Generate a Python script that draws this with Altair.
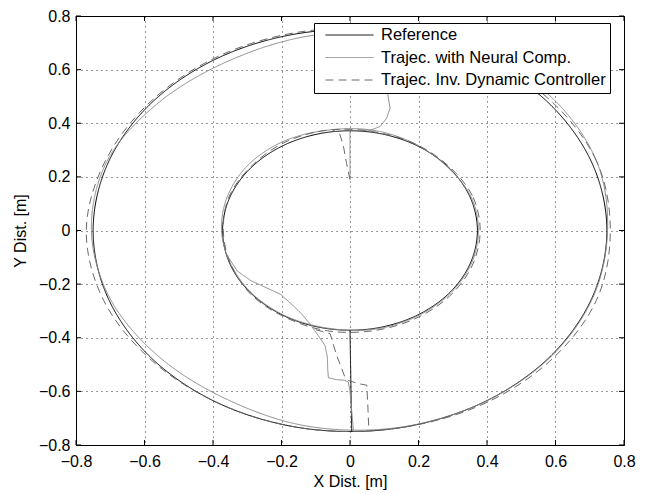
import math
import altair as alt
import pandas as pd

SERIES = ["Reference", "Trajec. with Neural Comp.", "Trajec. Inv. Dynamic Controller"]
COLORS = ["#000000", "#8a8a8a", "#6a6a6a"]
DASHES = [[1, 0], [1, 0], [8, 5]]
TICKS = [-0.8, -0.6, -0.4, -0.2, 0, 0.2, 0.4, 0.6, 0.8]

# loop radii read at these angles (degrees, counter-clockwise from +x)
ANGLES = [0, 20, 40, 60, 80, 100, 120, 140, 160, 180, 200, 220, 240, 260, 280, 300, 320, 340]
REF_IN = [0.372, 0.372, 0.372, 0.372, 0.372, 0.372, 0.372, 0.372, 0.372,
          0.372, 0.372, 0.372, 0.372, 0.372, 0.372, 0.372, 0.372, 0.372]
REF_OUT = [0.75, 0.75, 0.75, 0.75, 0.75, 0.75, 0.75, 0.75, 0.75,
           0.75, 0.75, 0.75, 0.75, 0.75, 0.75, 0.75, 0.75, 0.75]
NEU_IN = [0.375, 0.375, 0.37, 0.375, 0.38, 0.38, 0.385, 0.385, 0.38,
          0.375, 0.37, 0.37, 0.37, 0.37, 0.375, 0.375, 0.375, 0.375]
NEU_OUT = [0.752, 0.765, 0.77, 0.77, 0.75, 0.735, 0.725, 0.735, 0.755,
           0.755, 0.745, 0.73, 0.725, 0.74, 0.748, 0.75, 0.752, 0.752]
INV_IN = [0.38, 0.38, 0.375, 0.375, 0.375, 0.38, 0.38, 0.375, 0.375,
          0.37, 0.37, 0.375, 0.375, 0.38, 0.38, 0.38, 0.38, 0.38]
INV_OUT = [0.76, 0.765, 0.76, 0.755, 0.755, 0.755, 0.755, 0.755, 0.76,
           0.77, 0.765, 0.755, 0.75, 0.75, 0.75, 0.755, 0.76, 0.765]

# open path pieces (x, y)
REF_P1_X = [0.0, 0.005]
REF_P1_Y = [-0.372, -0.75]
NEU_P1_X = [0.0, 0.0]
NEU_P1_Y = [0.19, 0.375]
NEU_P2_X = [0.105, 0.11, 0.117, 0.107, 0.088, 0.058, 0.03]
NEU_P2_Y = [0.62, 0.51, 0.456, 0.419, 0.388, 0.373, 0.376]
NEU_P3_X = [-0.36, -0.33, -0.29, -0.204, -0.166, -0.141, -0.117, -0.0925, -0.073,
            -0.066, -0.065, -0.063, -0.04, -0.015, -0.005, 0.0, 0.01]
NEU_P3_Y = [-0.09, -0.15, -0.187, -0.237, -0.28, -0.311, -0.348, -0.392, -0.429,
            -0.472, -0.52, -0.549, -0.556, -0.559, -0.565, -0.6, -0.745]
INV_P1_X = [0.0, -0.01, -0.02, -0.03, -0.05]
INV_P1_Y = [0.19, 0.25, 0.32, 0.36, 0.375]
INV_P2_X = [-0.1, -0.058, -0.039, -0.015, -0.005, 0.024, 0.049, 0.052, 0.055]
INV_P2_Y = [-0.37, -0.385, -0.466, -0.546, -0.559, -0.571, -0.577, -0.65, -0.745]

loop_rows = []
for s, loops in [(SERIES[0], [REF_IN, REF_OUT]), (SERIES[1], [NEU_IN, NEU_OUT]),
                 (SERIES[2], [INV_IN, INV_OUT])]:
    for li, radii in enumerate(loops):
        for i, (a, r) in enumerate(zip(ANGLES, radii)):
            t = math.radians(a)
            loop_rows.append({"series": s, "path": f"{s}-loop{li}", "i": i,
                              "x": r * math.cos(t), "y": r * math.sin(t)})
loops_df = pd.DataFrame(loop_rows)

path_rows = []
for s, pieces in [(SERIES[0], [(REF_P1_X, REF_P1_Y)]),
                  (SERIES[1], [(NEU_P1_X, NEU_P1_Y), (NEU_P2_X, NEU_P2_Y), (NEU_P3_X, NEU_P3_Y)]),
                  (SERIES[2], [(INV_P1_X, INV_P1_Y), (INV_P2_X, INV_P2_Y)])]:
    for pi, (xs, ys) in enumerate(pieces):
        for i, (x, y) in enumerate(zip(xs, ys)):
            path_rows.append({"series": s, "path": f"{s}-p{pi}", "i": i, "x": x, "y": y})
paths_df = pd.DataFrame(path_rows)

ticks_df = pd.DataFrame({"v": TICKS})

W, H = 548, 429
FONT = "Liberation Sans"
xscale = alt.Scale(domain=[-0.8, 0.8], nice=False, zero=False)
yscale = alt.Scale(domain=[-0.8, 0.8], nice=False, zero=False)

axis_common = dict(values=TICKS, format="~g", grid=True, gridDash=[1, 4], gridColor="#000000",
                   gridOpacity=0.8, tickSize=0, labelFontSize=16, labelFont=FONT,
                   titleFontSize=16, titleFont=FONT, titleFontWeight="normal",
                   labelColor="#000000", titleColor="#000000", domainColor="#000000",
                   labelFlush=False)

legend = alt.Legend(title=None, zindex=1)
color = alt.Color("series:N", scale=alt.Scale(domain=SERIES, range=COLORS), legend=legend)
dash = alt.StrokeDash("series:N", scale=alt.Scale(domain=SERIES, range=DASHES), legend=legend)

loops = alt.Chart(loops_df).mark_line(interpolate="cardinal-closed", strokeWidth=1, clip=True).encode(
    x=alt.X("x:Q", scale=xscale, axis=alt.Axis(title="X Dist. [m]", labelPadding=8, titlePadding=4, **axis_common)),
    y=alt.Y("y:Q", scale=yscale, axis=alt.Axis(title="Y Dist. [m]", labelPadding=6, titlePadding=10, **axis_common)),
    color=color, strokeDash=dash, detail="path:N", order="i:Q",
)
paths = alt.Chart(paths_df).mark_line(interpolate="linear", strokeWidth=1, clip=True).encode(
    x=alt.X("x:Q", scale=xscale), y=alt.Y("y:Q", scale=yscale),
    color=color, strokeDash=dash, detail="path:N", order="i:Q",
)

tk = alt.Chart(ticks_df).mark_rule(color="black", strokeWidth=1)
xt_bot = tk.encode(x=alt.X("v:Q", scale=xscale), y=alt.value(H), y2=alt.value(H - 5))
xt_top = tk.encode(x=alt.X("v:Q", scale=xscale), y=alt.value(0), y2=alt.value(5))
yt_left = tk.encode(y=alt.Y("v:Q", scale=yscale), x=alt.value(0), x2=alt.value(5))
yt_right = tk.encode(y=alt.Y("v:Q", scale=yscale), x=alt.value(W), x2=alt.value(W - 5))

chart = alt.layer(loops, paths, xt_bot, xt_top, yt_left, yt_right).properties(
    width=W, height=H,
    autosize=alt.AutoSizeParams(type="none"),
    padding={"left": 68, "top": 8, "right": 15, "bottom": 45},
).configure_view(stroke="#000000", strokeWidth=1).configure_legend(
    orient="none", legendX=238, legendY=7, fillColor="white", strokeColor="black",
    padding=4, symbolOffset=7, symbolSize=2304, symbolStrokeWidth=1, symbolType="stroke",
    labelFontSize=16.5, labelFont=FONT, labelColor="#000000", labelOffset=7,
    rowPadding=5.5, clipHeight=16, labelLimit=400,
)

chart.save("out.html", embed_options={"renderer": "svg", "actions": False})
